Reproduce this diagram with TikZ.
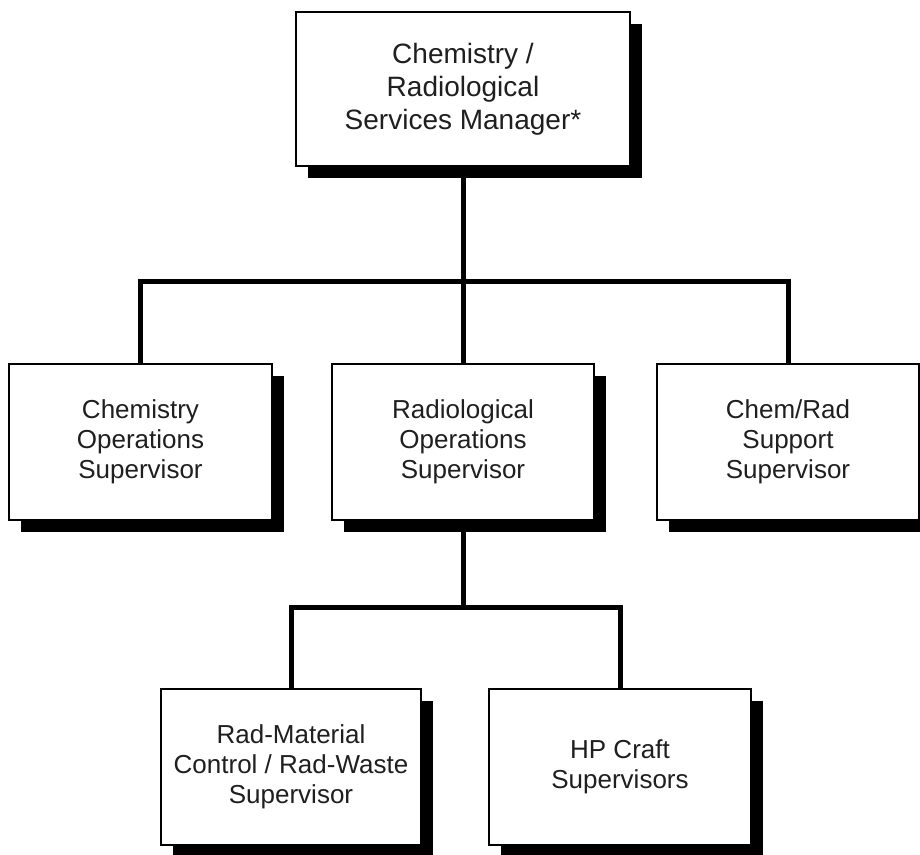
\documentclass[tikz,border=0pt]{standalone}
\usepackage{fontspec}
\setmainfont{Liberation Sans}
\usetikzlibrary{shadows}
\tikzset{
  orgbox/.style={draw=black, line width=2.2pt, fill=white, rectangle,
    align=center, text=black!88, inner sep=0pt,
    minimum width=262pt, minimum height=156pt,
    font=\fontsize{26}{30}\selectfont,
    general shadow={fill=black, shadow xshift=12pt, shadow yshift=-12pt}},
  conn/.style={line width=5pt, draw=black}
}
\begin{document}
\begin{tikzpicture}[x=1pt,y=-1pt]
\useasboundingbox (0,0) rectangle (920,854);
\node[orgbox, minimum width=334pt, minimum height=154pt, font=\fontsize{28}{33}\selectfont] (top) at (463,89) {Chemistry /\\Radiological\\Services Manager*};
\node[orgbox, minimum width=263pt] (chem) at (140.5,442) {Chemistry\\Operations\\Supervisor};
\node[orgbox] (rad) at (463,442) {Radiological\\Operations\\Supervisor};
\node[orgbox] (sup) at (788,442) {Chem/Rad\\Support\\Supervisor};
\node[orgbox, minimum width=260pt] (rmc) at (291,767) {Rad-Material\\Control / Rad-Waste\\Supervisor};
\node[orgbox] (hp) at (620,767) {HP Craft\\Supervisors};
\coordinate (busA) at (463,281);
\coordinate (busB) at (463,607);
\draw[conn] (top.south) -- (busA);
\draw[conn] (busA) -| (chem.north);
\draw[conn] (busA) -| (sup.north);
\draw[conn] (busA) -- (rad.north);
\draw[conn] (rad.south) -- (busB);
\draw[conn] (busB) -| (rmc.north);
\draw[conn] (busB) -| (hp.north);
\end{tikzpicture}
\end{document}
